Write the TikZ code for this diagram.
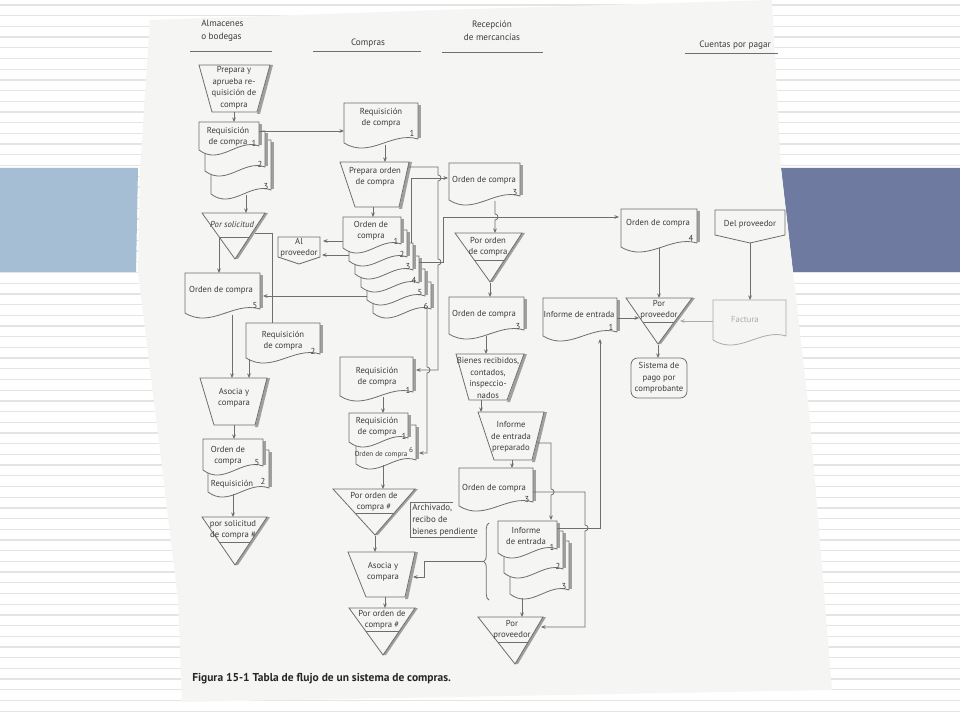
\documentclass[tikz,border=0pt]{standalone}
\usepackage{fontspec}
\setmainfont{PT Sans}
\usetikzlibrary{arrows.meta,decorations.pathreplacing}
\definecolor{linec}{HTML}{6E6E6E}
\definecolor{textc}{HTML}{3C3C3C}
\definecolor{shadc}{HTML}{A0A0A0}
\definecolor{pagec}{HTML}{F5F5F3}
\definecolor{stripec}{HTML}{E4E4E4}
\definecolor{lbarc}{HTML}{A6BED4}
\definecolor{rbarc}{HTML}{6F7AA0}
\definecolor{fadec}{HTML}{ABABAB}
\newcommand{\bxf}{\fontsize{6.5}{8.6}\selectfont}
\newcommand{\smf}{\fontsize{5.4}{6.5}\selectfont}
\newcommand{\hdf}{\fontsize{6.9}{9.6}\selectfont}
\newcommand{\anf}{\fontsize{6.7}{9}\selectfont}
\newcommand{\cpf}{\fontsize{8.6}{10}\selectfont\bfseries}
\tikzset{
  ln/.style={draw=linec,line width=0.6pt},
  arr/.style={ln,-{Stealth[length=3.4pt,width=2.8pt]}},
  shp/.style={draw=linec,line width=0.6pt,fill=pagec},
  txt/.style={text=textc,font=\bxf,align=center,inner sep=0pt},
  hdr/.style={text=textc,font=\hdf,align=center,inner sep=0pt},
  bmp/.style={out=0,in=0,looseness=1.7},
}
% document: L T R B
\newcommand{\docsh}[4]{%
  \fill[shadc] (#3,{#2+2}) rectangle ({#3+2.6},{#4-5});
  \filldraw[shp] (#3,#2) -- (#1,#2) -- (#1,#4) .. controls ({#1+0.35*(#3-#1)},{#4+16}) and ({#1+0.65*(#3-#1)},{#4-12}) .. (#3,{#4-4}) -- cycle;}
% manual operation: TLx TRx T BLx BRx B
\newcommand{\trapsh}[6]{%
  \fill[shadc] (#2,#3) -- ({#2+3},#3) -- ({#5+3},{#6+2}) -- (#5,{#6+2}) -- cycle;
  \filldraw[shp] (#1,#3) -- (#2,#3) -- (#5,#6) -- (#4,#6) -- cycle;}
% file triangle: L R T apexx apexy liney
\newcommand{\trish}[6]{%
  \fill[shadc] (#2,#3) -- ({#2+3},#3) -- ({#4+3},#5) -- (#4,#5) -- cycle;
  \filldraw[shp] (#1,#3) -- (#2,#3) -- (#4,#5) -- cycle;
  \draw[ln] ({#1+(#4-#1)*(#6-#3)/(#5-#3)},#6) -- ({#2+(#4-#2)*(#6-#3)/(#5-#3)},#6);}
% off-page connector: L T R S P
\newcommand{\offsh}[5]{%
  \filldraw[shp] (#1,#2) -- (#3,#2) -- (#3,#4) -- ({(#1+#3)/2},#5) -- (#1,#4) -- cycle;}

\begin{document}
\begin{tikzpicture}[x=0.75pt,y=-0.75pt]
\useasboundingbox (0,0) rectangle (960,720);
% ---------- slide background ----------
\fill[white] (0,0) rectangle (960,720);
\foreach \yy in {5,15.7,...,716}{\draw[stripec,line width=1pt] (0,\yy) -- (960,\yy);}
\fill[lbarc] (0,168) -- (138,168) -- (136,272) -- (0,272) -- cycle;
\fill[rbarc] (781,168) -- (960,168) -- (960,272) -- (793,272) -- cycle;
\fill[pagec] (150,20) -- (440,10) -- (772,0) -- (781,168) -- (793,272) -- (810,420) -- (832,690) -- (182,702) -- (178,600) -- (160,450) -- (138,272) -- (140,170) -- cycle;

% ---------- headers ----------
\node[hdr,align=left,anchor=west] (hAlm) at (201,31) {Almacenes\\o bodegas};
\draw[ln] (190,51) -- (272,51);
\node[hdr] (hCom) at (368,43) {Compras};
\draw[ln] (313,51) -- (421,51);
\node[hdr] (hRec) at (492,31) {Recepción\\de mercancías};
\draw[ln] (442,52) -- (543,52);
\node[hdr] (hCue) at (735,45) {Cuentas por pagar};
\draw[ln] (685,53) -- (778,53);

% ---------- Almacenes ----------
\trapsh{199}{270}{65}{212}{257}{112}
\node[txt] (tPrep) at (234,88) {Prepara y\\aprueba re-\\quisición de\\compra};
\docsh{211}{140}{271}{194}
\docsh{205}{131}{265}{171}
\docsh{199}{122}{259}{150}
\node[txt] (tReqA) at (228,137) {Requisición\\de compra};
\node[txt] (dA1) at (254,143) {1};
\node[txt] (dA2) at (260,164) {2};
\node[txt] (dA3) at (266,187) {3};
\trish{202}{265}{213}{235}{259}{237}
\node[txt,font=\bxf\itshape] (tSol) at (232,224) {Por solicitud};
\docsh{185}{273}{260}{313}
\node[txt] (tOC5) at (221,290) {Orden de compra};
\node[txt] (dOC5) at (255,306) {5};
\docsh{246}{323}{320}{358}
\node[txt] (tReq2) at (283,341) {Requisición\\de compra};
\node[txt] (dReq2) at (313,351) {2};
\trapsh{200}{267}{378}{214}{255}{425}
\node[txt] (tAso1) at (234,398) {Asocia y\\compara};
\docsh{208}{450}{269}{492}
\docsh{203}{439}{263}{470}
\node[txt] (tOC5b) at (228,456) {Orden de\\compra};
\node[txt] (dOC5b) at (257,463) {5};
\node[txt] (tReqb) at (232,484) {Requisición};
\node[txt] (dReqb) at (263,481) {2};
\trish{202}{267}{517}{235}{565}{542}
\node[txt] (tSol2) at (233,530) {por solicitud\\de compra \#};

\coordinate (a1) at (234,112); \coordinate (a2) at (234,122);
\coordinate (a3) at (259,131); \coordinate (a4) at (344,131);
\coordinate (a5) at (246,195); \coordinate (a6) at (246,213);
\coordinate (a7) at (219,237); \coordinate (a8) at (219,273);
\coordinate (a9) at (255,233); \coordinate (a10) at (272,233); \coordinate (a11) at (272,323);
\coordinate (a12) at (367,296); \coordinate (a13) at (263,296);
\coordinate (a14) at (232,315); \coordinate (a15) at (232,378);
\coordinate (a16) at (249,359); \coordinate (a17) at (249,378);
\coordinate (a18) at (234,425); \coordinate (a19) at (234,439);
\coordinate (a20) at (233,494); \coordinate (a21) at (233,517);
\draw[arr] (a1) -- (a2);
\draw[arr] (a3) -- (a4);
\draw[arr] (a5) -- (a6);
\draw[arr] (a7) -- (a8);
\draw[ln] (a9) -- (a10) -- (a11);
\draw[arr] (a14) -- (a15);
\draw[arr] (a16) -- (a17);
\draw[arr] (a18) -- (a19);
\draw[arr] (a20) -- (a21);

% ---------- Compras ----------
\docsh{344}{103}{418}{143}
\node[txt] (tReqC) at (381,118) {Requisición\\de compra};
\node[txt] (dReqC) at (412,133) {1};
\trapsh{340}{409}{162}{355}{399}{207}
\node[txt] (tPrepO) at (375,177) {Prepara orden\\de compra};
\foreach \k in {6,5,4,3,2,1}{
  \pgfmathsetmacro\sL{343+6*(\k-1)}
  \pgfmathsetmacro\sR{401+6*(\k-1)}
  \pgfmathsetmacro\sT{217+13*(\k-1)}
  \pgfmathsetmacro\sB{248+13*(\k-1)}
  \docsh{\sL}{\sT}{\sR}{\sB}
  \pgfmathsetmacro\dX{\sR-5}
  \pgfmathsetmacro\dY{\sB-7}
  \node[txt] (dOC\k) at (\dX,\dY) {\k};
}
\node[txt] (tOC1) at (371,231) {Orden de\\compra};
\offsh{278}{237}{320}{257}{264}
\node[txt] (tAlp) at (299,248) {Al\\proveedor};
\docsh{340}{357}{413}{396}
\node[txt] (tReqL) at (377,377) {Requisición\\de compra};
\node[txt] (dReqL) at (408,390) {1};
\docsh{356}{425}{416}{464}
\docsh{349}{413}{408}{442}
\node[txt] (tReqL2) at (377,427) {Requisición\\de compra};
\node[txt] (dReqL2) at (404,436) {1};
\node[txt,font=\smf] (tOC6) at (381,455) {Orden de compra};
\node[txt,font=\smf] (dOC6b) at (411,450) {6};
\trish{333}{415}{489}{375}{535}{513}
\node[txt] (tPO1) at (374,502) {Por orden de\\compra \#};
\draw[ln] (453,502) -- (410,502) -- (410,537) -- (475,537);
\node[txt,font=\anf,align=left,anchor=west] (tArch) at (412,520) {Archivado,\\recibo de\\bienes pendiente};
\trapsh{348}{415}{552}{366}{405}{597}
\node[txt] (tAso2) at (383,572) {Asocia y\\compara};
\trish{349}{415}{608}{383}{655}{631}
\node[txt] (tPO2) at (382,620) {Por orden de\\compra \#};

\coordinate (b1) at (385,145); \coordinate (b2) at (385,162);
\coordinate (b3) at (373,207); \coordinate (b4) at (373,217);
\coordinate (b5) at (343,241); \coordinate (b6) at (323,241);
\coordinate (b7) at (349,255); \coordinate (b8) at (322,255);
\coordinate (b9) at (411,243); \coordinate (b10) at (411,178); \coordinate (b11) at (448,178);
\coordinate (b12) at (419,262); \coordinate (b13) at (443,262); \coordinate (b14) at (443,217); \coordinate (b15) at (619,217);
\coordinate (b16) at (408,167); \coordinate (b17) at (438,167); \coordinate (b18) at (438,370); \coordinate (b19) at (416,370);
\coordinate (b20) at (427,309); \coordinate (b21) at (427,453); \coordinate (b22) at (419,453);
\coordinate (b23) at (383,397); \coordinate (b24) at (383,413);
\coordinate (b25) at (383,465); \coordinate (b26) at (383,489);
\coordinate (b27) at (375,536); \coordinate (b28) at (375,552);
\coordinate (b29) at (385,597); \coordinate (b30) at (385,608);
\draw[arr] (b1) -- (b2);
\draw[arr] (b3) -- (b4);
\draw[arr] (b5) -- (b6);
\draw[arr] (b7) -- (b8);
\draw[arr] (b9) -- (b10) -- (b11);
\draw[arr] (b12) -- (b13) -- (b14) -- (b15);
\draw[arr] (b16) -- (b17) -- (438,175) to[bmp] (438,181) -- (438,259) to[bmp] (438,265) -- (b18) -- (b19);
\draw[arr] (b20) -- (427,367) to[bmp] (427,373) -- (b21) -- (b22);
\draw[arr] (a12) -- (a13);
\draw[arr] (b23) -- (b24);
\draw[arr] (b25) -- (b26);
\draw[arr] (b27) -- (b28);
\draw[arr] (b29) -- (b30);

% ---------- Recepcion ----------
\docsh{449}{163}{520}{200}
\node[txt] (tOC3a) at (484,180) {Orden de compra};
\node[txt] (dOC3a) at (515,193) {3};
\trish{455}{522}{233}{490}{282}{260}
\node[txt] (tPOr) at (488,247) {Por orden\\de compra};
\docsh{449}{297}{524}{334}
\node[txt] (tOC3b) at (484,314) {Orden de compra};
\node[txt] (dOC3b) at (518,327) {3};
\trapsh{456}{524}{354}{469}{507}{400}
\node[txt] (tBien) at (488,378) {Bienes recibidos,\\contados,\\inspeccio-\\nados};
\trapsh{478}{544}{412}{494}{532}{460}
\node[txt] (tInfP) at (511,437) {Informe\\de entrada\\preparado};
\docsh{459}{468}{533}{506}
\node[txt] (tOC3c) at (494,488) {Orden de compra};
\node[txt] (dOC3c) at (527,500) {3};
\docsh{510}{541}{569}{594}
\docsh{504}{531}{563}{573}
\docsh{498}{521}{557}{553}
\node[txt] (tInf) at (526,536) {Informe\\de entrada};
\node[txt] (dInf1) at (552,547) {1};
\node[txt] (dInf2) at (558,566) {2};
\node[txt] (dInf3) at (564,587) {3};
\draw[ln,decorate,decoration={brace,amplitude=4pt}] (489,600) -- (489,523);
\trish{478}{543}{617}{515}{664}{642}
\node[txt] (tPP2) at (512,630) {Por\\proveedor};

\coordinate (c1) at (495,201); \coordinate (c2) at (495,233);
\coordinate (c3) at (490,283); \coordinate (c4) at (490,297);
\coordinate (c5) at (486,336); \coordinate (c6) at (486,354);
\coordinate (c7) at (481,400); \coordinate (c8) at (481,412);
\coordinate (c9) at (512,460); \coordinate (c10) at (512,468);
\coordinate (c11) at (537,443); \coordinate (c12) at (551,443); \coordinate (c13) at (551,520);
\coordinate (c14) at (533,492); \coordinate (c15) at (585,492); \coordinate (c16) at (585,627); \coordinate (c17) at (541,627);
\coordinate (c18) at (557,528); \coordinate (c19) at (600,528); \coordinate (c20) at (600,339);
\coordinate (c21) at (522,598); \coordinate (c22) at (522,617);
\coordinate (c23) at (484,561); \coordinate (c24) at (424,561); \coordinate (c25) at (424,577); \coordinate (c26) at (413,577);
\draw[arr] (c1) -- (495,214) to[bmp] (495,220) -- (c2);
\draw[arr] (c3) -- (c4);
\draw[arr] (c5) -- (c6);
\draw[arr] (c7) -- (c8);
\draw[arr] (c9) -- (c10);
\draw[arr] (c11) -- (c12) -- (551,489) to[bmp] (551,495) -- (c13);
\draw[arr] (c14) -- (c15) -- (585,525) to[bmp] (585,531) -- (c16) -- (c17);
\draw[arr] (c18) -- (c19) -- (c20);
\draw[arr] (c21) -- (c22);
\draw[arr] (c23) -- (c24) -- (c25) -- (c26);

% ---------- Cuentas por pagar ----------
\docsh{621}{209}{697}{247}
\node[txt] (tOC4) at (658,223) {Orden de compra};
\node[txt] (dOC4) at (691,238) {4};
\offsh{715}{210}{785}{235}{243}
\node[txt] (tDel) at (750,224) {Del proveedor};
\docsh{543}{298}{617}{336}
\node[txt] (tInfC) at (579,314) {Informe de entrada};
\node[txt] (dInfC) at (611,327) {1};
\trish{626}{692}{298}{658}{344}{322}
\node[txt] (tPP1) at (659,310) {Por\\proveedor};
\begin{scope}
\colorlet{linec}{fadec}
\colorlet{shadc}{pagec}
\docsh{713}{300}{786}{340}
\node[txt,text=fadec] (tFac) at (745,320) {Factura};
\end{scope}
\draw[shp,rounded corners=5pt] (631,358) rectangle (687,398);
\node[txt] (tSis) at (659,378) {Sistema de\\pago por\\comprobante};

\coordinate (d1) at (659,248); \coordinate (d2) at (659,298);
\coordinate (d3) at (750,243); \coordinate (d4) at (750,300);
\coordinate (d5) at (713,321); \coordinate (d6) at (680,321);
\coordinate (d7) at (617,318); \coordinate (d8) at (639,318);
\coordinate (d9) at (658,345); \coordinate (d10) at (658,358);
\draw[arr] (d1) -- (d2);
\draw[arr] (d3) -- (d4);
\draw[arr,draw=fadec] (d5) -- (d6);
\draw[arr] (d7) -- (d8);
\draw[arr] (d9) -- (d10);

% ---------- caption ----------
\node[anchor=west,font=\cpf,text=black!85,inner sep=0pt] (cap) at (192,679) {Figura 15-1 Tabla de flujo de un sistema de compras.};
\end{tikzpicture}
\end{document}
